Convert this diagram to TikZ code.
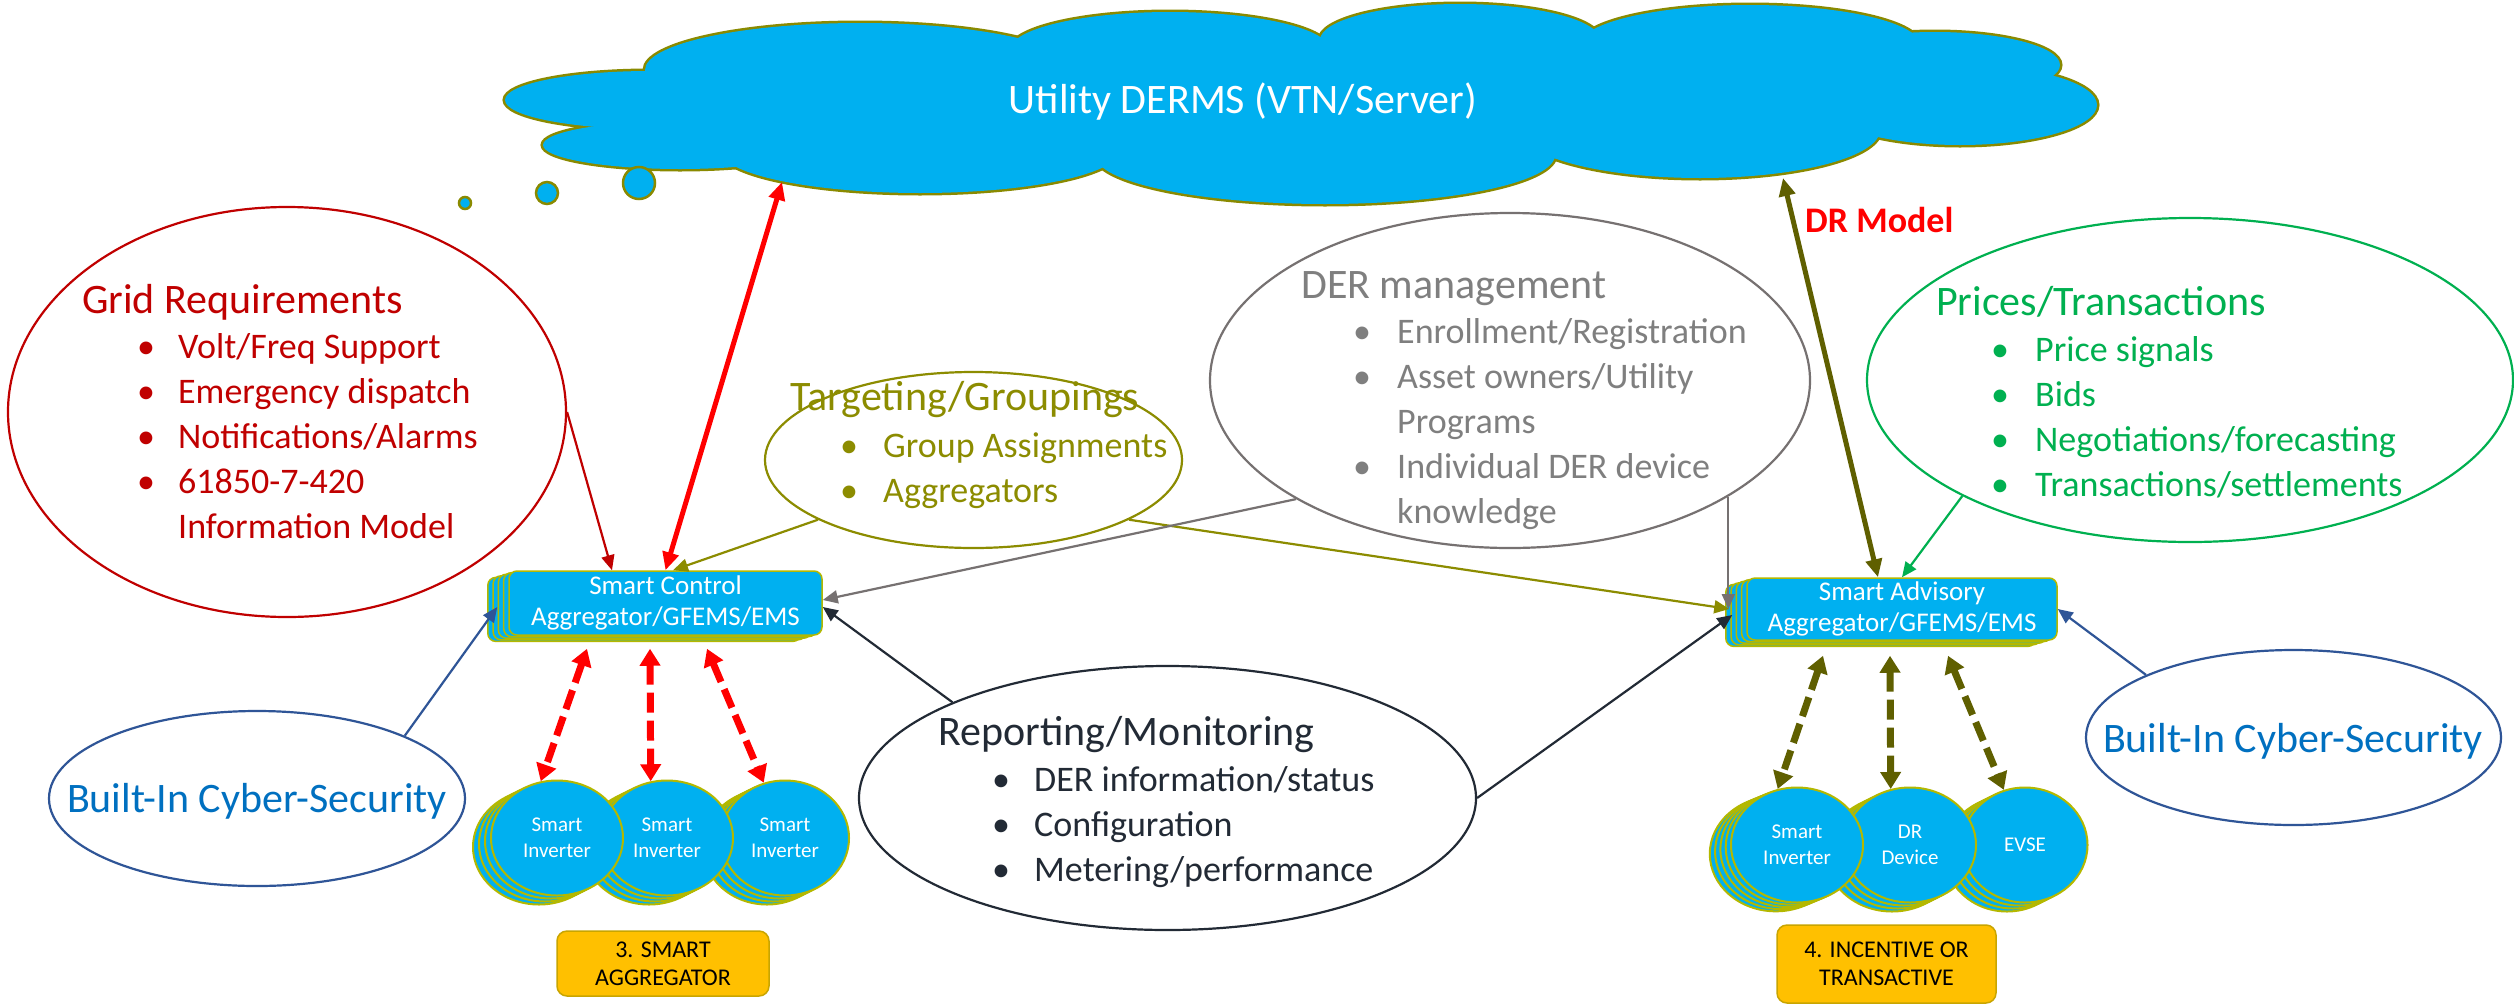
\documentclass[tikz,border=0pt]{standalone}
\usepackage{fontspec}
\setmainfont{Carlito}
\usetikzlibrary{shapes.geometric,arrows.meta,calc}
\definecolor{cblue}{HTML}{00B0F0}
\definecolor{cedge}{HTML}{8A8A00}
\definecolor{sedge}{HTML}{B4B800}
\definecolor{gridred}{HTML}{C00000}
\definecolor{brightred}{HTML}{FF0000}
\definecolor{olivet}{HTML}{8C8C00}
\definecolor{darkolive}{HTML}{5F5F00}
\definecolor{grayline}{HTML}{767171}
\definecolor{graytext}{HTML}{7F7F7F}
\definecolor{greent}{HTML}{00B050}
\definecolor{navy}{HTML}{222A35}
\definecolor{cyline}{HTML}{2F5597}
\definecolor{cytext}{HTML}{0070C0}
\definecolor{gold}{HTML}{FFC000}
\definecolor{goldedge}{HTML}{C9A500}
\newcommand{\fttl}{\fontsize{42}{50}\selectfont}
\newcommand{\flst}{\fontsize{36}{45}\selectfont}
\newcommand{\fntBox}{\fontsize{27}{31}\selectfont}
\newcommand{\fntDev}{\fontsize{21}{26}\selectfont}
\newcommand{\fntLbl}{\fontsize{24}{28}\selectfont}
\newlength{\bulw}
\newcommand{\bi}{\makebox[\bulw][l]{\textbullet}}
\newcommand{\bn}{\hspace*{\bulw}}
\tikzset{
  ell/.style={ellipse, inner sep=0pt, line width=2.2pt},
  ttl/.style={anchor=base west, inner sep=0pt, font=\fttl},
  lst/.style={anchor=base west, inner sep=0pt, font=\flst},
  scbox/.style={rectangle, rounded corners=8pt, fill=cblue, draw=sedge, line width=1.5pt,
     minimum width=313pt, minimum height=64pt, inner sep=0pt, text=white, font=\fntBox, align=center},
  sabox/.style={scbox, minimum width=310pt, minimum height=62pt},
  dev/.style={ellipse, fill=cblue, draw=sedge, line width=2pt, minimum width=132pt,
     minimum height=115pt, inner sep=0pt, text=white, font=\fntDev, align=center},
  lbl/.style={rectangle, rounded corners=10pt, fill=gold, draw=goldedge, line width=1.5pt,
     inner sep=0pt, font=\fntLbl, align=center, text=black},
  thinarr/.style={line width=2.2pt, -{Triangle[length=15pt,width=13pt]}},
  thickarr/.style={line width=5pt, {Triangle[length=18pt,width=16pt]}-{Triangle[length=18pt,width=16pt]}},
  dasharr/.style={line width=7pt, dash pattern=on 20pt off 8pt,
     {Triangle[length=17pt,width=20pt]}-{Triangle[length=17pt,width=20pt]}},
}
\begin{document}
\begin{tikzpicture}[x=1pt,y=-1pt]
\useasboundingbox (0,0) rectangle (2514,1007);
\fill[white] (0,0) rectangle (2514,1007);

% ---------- cloud ----------
\def\lobes{650/100/145/29, 680/145/137/24, 920/150/200/43, 1325/155/230/49,
  1700/130/180/48, 1960/105/137/40, 1935/65/125/33, 1750/45/170/40,
  1460/40/140/36, 1170/50/160/38, 860/70/215/47}
\foreach \cx/\cy/\rx/\ry in \lobes
  \draw[cedge, line width=5pt] (\cx,\cy) ellipse [x radius=\rx pt, y radius=\ry pt];
\foreach \cx/\cy/\rx/\ry in \lobes
  \fill[cblue] (\cx,\cy) ellipse [x radius=\rx pt, y radius=\ry pt];
\fill[cblue] (1300,105) ellipse [x radius=560pt, y radius=60pt];
\fill[cblue] (760,122) ellipse [x radius=60pt, y radius=12pt];
\fill[cblue] (1830,88) ellipse [x radius=50pt, y radius=14pt];
\draw[cedge, line width=2.5pt, fill=cblue] (465,203) circle [radius=6pt];
\draw[cedge, line width=2.5pt, fill=cblue] (547,193) circle [radius=11pt];
\draw[cedge, line width=2.5pt, fill=cblue] (639,183) circle [radius=16pt];
\node[text=white, font=\fttl, inner sep=0pt] (derms) at (1243,102) {Utility DERMS (VTN/Server)};
\coordinate (cloudA) at (782,182);
\coordinate (cloudB) at (1783,178);

% ---------- ellipses ----------
\node[ell, draw=gridred, minimum width=558pt, minimum height=410pt] (grid) at (287,412) {};
\node[ttl, text=gridred] (gridT) at (82,313) {Grid Requirements};
\node[lst, text=gridred] (gridL) at (137,358) {\setlength{\bulw}{41pt}\begin{tabular}[t]{@{}l@{}}
  \bi Volt/Freq Support\\ \bi Emergency dispatch\\ \bi Notifications/Alarms\\
  \bi 61850-7-420\\ \bn Information Model\end{tabular}};

\node[ell, draw=olivet, minimum width=417pt, minimum height=176pt] (tg) at (973.5,460) {};
\node[ttl, text=olivet] (tgT) at (790,410) {Targeting/Groupings};
\node[lst, text=olivet] (tgL) at (840,457) {\setlength{\bulw}{43pt}\begin{tabular}[t]{@{}l@{}}
  \bi Group Assignments\\ \bi Aggregators\end{tabular}};

\node[ell, draw=grayline, minimum width=600pt, minimum height=335pt] (der) at (1510,380.5) {};
\node[ttl, text=graytext] (derT) at (1301,298) {DER management};
\node[lst, text=graytext] (derL) at (1353,343) {\setlength{\bulw}{44pt}\begin{tabular}[t]{@{}l@{}}
  \bi Enrollment/Registration\\ \bi Asset owners/Utility\\ \bn Programs\\
  \bi Individual DER device\\ \bn knowledge\end{tabular}};

\node[ell, draw=greent, minimum width=646pt, minimum height=324pt] (pr) at (2190,380) {};
\node[ttl, text=greent] (prT) at (1936,315) {Prices/Transactions};
\node[lst, text=greent] (prL) at (1991,361) {\setlength{\bulw}{44pt}\begin{tabular}[t]{@{}l@{}}
  \bi Price signals\\ \bi Bids\\ \bi Negotiations/forecasting\\ \bi Transactions/settlements\end{tabular}};

\node[ell, draw=navy, minimum width=617pt, minimum height=264pt] (rep) at (1167.5,798) {};
\node[ttl, text=navy] (repT) at (938,745) {Reporting/Monitoring};
\node[lst, text=navy] (repL) at (992,791) {\setlength{\bulw}{42pt}\begin{tabular}[t]{@{}l@{}}
  \bi DER information/status\\ \bi Configuration\\ \bi Metering/performance\end{tabular}};

\node[ell, draw=cyline, minimum width=416pt, minimum height=175pt] (cyl) at (257,798.5) {};
\node[anchor=base, inner sep=0pt, font=\fttl, text=cytext] (cylT) at (257,812) {Built-In Cyber-Security};
\node[ell, draw=cyline, minimum width=415pt, minimum height=175pt] (cyr) at (2293.5,737.5) {};
\node[anchor=base, inner sep=0pt, font=\fttl, text=cytext] (cyrT) at (2293,752) {Built-In Cyber-Security};

% ---------- aggregator boxes ----------
\foreach \k in {4,3,2,1}
  \node[scbox] (scb\k) at (665.5-\k*5.3, 603+\k*1.6) {};
\node[scbox] (sc) at (665.5,603) {Smart Control\\Aggregator/GFEMS/EMS};
\foreach \k in {4,3,2,1}
  \node[sabox] (sab\k) at (1902-\k*5.3, 609+\k*1.6) {};
\node[sabox] (sa) at (1902,609) {Smart Advisory\\Aggregator/GFEMS/EMS};

% ---------- devices ----------
\foreach \k in {3,2,1} \node[dev, minimum width=128pt] (inv3b\k) at (785-\k*6, 838+\k*3) {};
\node[dev, minimum width=128pt] (inv3) at (785,838) {Smart\\Inverter};
\foreach \k in {3,2,1} \node[dev] (inv2b\k) at (667-\k*6, 838+\k*3) {};
\node[dev] (inv2) at (667,838) {Smart\\Inverter};
\foreach \k in {3,2,1} \node[dev] (inv1b\k) at (557-\k*6, 838+\k*3) {};
\node[dev] (inv1) at (557,838) {Smart\\Inverter};

\foreach \k in {3,2,1} \node[dev, minimum width=125pt] (evseb\k) at (2025-\k*6, 845+\k*3) {};
\node[dev, minimum width=125pt] (evse) at (2025,845) {EVSE};
\foreach \k in {3,2,1} \node[dev] (drdb\k) at (1910-\k*6, 845+\k*3) {};
\node[dev] (drd) at (1910,845) {DR\\Device};
\foreach \k in {4,3,2,1} \node[dev] (rinvb\k) at (1797-\k*5.3, 845+\k*2.2) {};
\node[dev] (rinv) at (1797,845) {Smart\\Inverter};

% ---------- labels ----------
\node[lbl, minimum width=212pt, minimum height=65pt] (lbl3) at (663,963.5) {3. SMART\\AGGREGATOR};
\node[lbl, minimum width=219pt, minimum height=78pt] (lbl4) at (1886.5,964) {4. INCENTIVE OR\\TRANSACTIVE};

% ---------- connectors ----------
\draw[thinarr, gridred] (grid.east) -- ([xshift=-53.5pt]sc.north);
\draw[thinarr, olivet] (tg.201) -- ([xshift=7.5pt]sc.north);
\draw[thinarr, olivet] (tg.339) -- ([xshift=-17pt]sa.west);
\draw[thinarr, grayline] (der.209) -- ([yshift=3pt]sc.east);
\draw[thinarr, grayline] (der.332) -- (der.332 |- sa.west);
\draw[thinarr, navy] (rep.156) -- ([yshift=-4pt]sc.east);
\draw[thinarr, navy] (rep.east) -- ([xshift=-14pt,yshift=-6pt]sa.west);
\draw[thinarr, greent] (pr.207) -- (sa.north);
\draw[thinarr, cyline] (cyl.23) -- ([xshift=-11pt,yshift=-4pt]sc.west);
\draw[thinarr, cyline] (cyr.157) -- (sa.east);
\draw[thickarr, brightred] (sc.north) -- (cloudA);
\draw[thickarr, darkolive] ([xshift=-24pt]sa.north) -- (cloudB);
\node[anchor=base west, inner sep=0pt, text=brightred, font=\bfseries\fontsize{36}{40}\selectfont] (drm) at (1805,232) {DR Model};

\draw[dasharr, brightred] ([xshift=-78.5pt,yshift=-13pt]sc.south) -- (inv1.106);
\draw[dasharr, brightred] ([xshift=-15.5pt,yshift=-13pt]sc.south) -- (inv2.106);
\draw[dasharr, brightred] ([xshift=41.5pt,yshift=-13pt]sc.south) -- (inv3.111);
\draw[dasharr, darkolive] ([xshift=-79pt,yshift=-15pt]sa.south) -- (rinv.109);
\draw[dasharr, darkolive] ([xshift=-12pt,yshift=-15pt]sa.south) -- (drd.109);
\draw[dasharr, darkolive] ([xshift=46pt,yshift=-15pt]sa.south) -- (evse.111);
\end{tikzpicture}
\end{document}
